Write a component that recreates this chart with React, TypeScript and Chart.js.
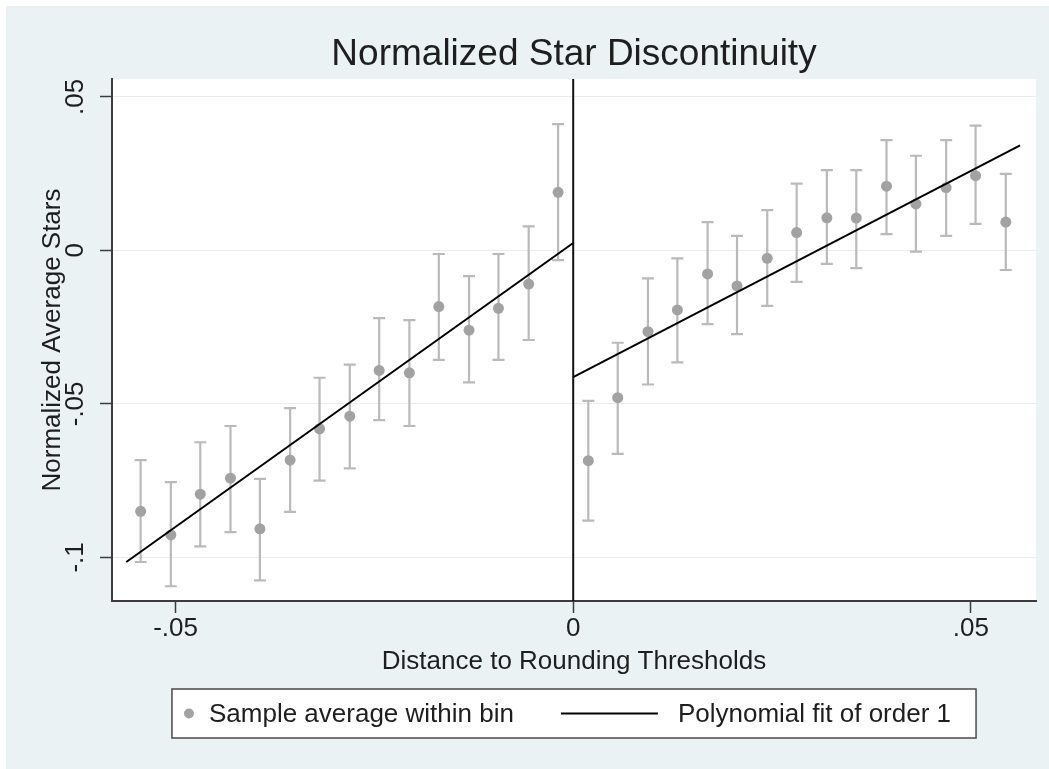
import React, { useEffect, useRef } from 'react';
import { Chart, registerables } from 'chart.js';

Chart.register(...registerables);

const TITLE = 'Normalized Star Discontinuity';
const X_TITLE = 'Distance to Rounding Thresholds';
const Y_TITLE = 'Normalized Average Stars';
const BIN_LABEL = 'Sample average within bin';
const FIT_LABEL = 'Polynomial fit of order 1';

// bin centres (distance to threshold)
const BIN_X = [
  -0.0544, -0.0506, -0.0469, -0.0431, -0.0394, -0.0356, -0.0319, -0.0281,
  -0.0244, -0.0206, -0.0169, -0.0131, -0.0094, -0.0056, -0.0019,
  0.0019, 0.0056, 0.0094, 0.0131, 0.0169, 0.0206, 0.0244, 0.0281,
  0.0319, 0.0356, 0.0394, 0.0431, 0.0469, 0.0506, 0.0544,
];
// sample average within bin
const BIN_MEAN = [
  -0.085, -0.0927, -0.0794, -0.0742, -0.0907, -0.0683, -0.0581, -0.054,
  -0.0391, -0.0399, -0.0183, -0.026, -0.0189, -0.011, 0.0189,
  -0.0685, -0.048, -0.0265, -0.0194, -0.0077, -0.0116, -0.0026, 0.0058,
  0.0106, 0.0105, 0.0209, 0.0151, 0.0204, 0.0243, 0.0092,
];
// confidence interval bounds
const CI_LOW = [
  -0.1015, -0.1094, -0.0964, -0.0918, -0.1075, -0.0852, -0.075, -0.071,
  -0.0553, -0.0572, -0.0357, -0.043, -0.0357, -0.0292, -0.0032,
  -0.088, -0.0663, -0.0437, -0.0365, -0.024, -0.0273, -0.0181, -0.0103,
  -0.0044, -0.0058, 0.0053, -0.0004, 0.0047, 0.0086, -0.0064,
];
const CI_HIGH = [
  -0.0683, -0.0755, -0.0625, -0.0572, -0.0744, -0.0514, -0.0415, -0.0372,
  -0.0221, -0.0227, -0.0012, -0.0084, -0.0012, 0.0078, 0.0411,
  -0.049, -0.0301, -0.0091, -0.0026, 0.0092, 0.0047, 0.0131, 0.0217,
  0.0261, 0.0261, 0.0359, 0.0308, 0.0359, 0.0406, 0.0249,
];
// linear fits on each side of the threshold
const FIT_LEFT_X = [-0.0562, 0];
const FIT_LEFT_Y = [-0.1015, 0.0024];
const FIT_RIGHT_X = [0, 0.0562];
const FIT_RIGHT_Y = [-0.0413, 0.0342];

const X_TICKS = [-0.05, 0, 0.05];
const X_TICK_LABELS = ['-.05', '0', '.05'];
const Y_TICKS = [-0.1, -0.05, 0, 0.05];
const Y_TICK_LABELS = ['-.1', '-.05', '0', '.05'];
const X_RANGE = [-0.058, 0.0582];
const Y_RANGE = [-0.1142, 0.0558];
const THRESHOLD = 0;

const FONT = '"Liberation Sans", Arial, Helvetica, sans-serif';
const TEXT = '#1e1e1e';
const AXIS = '#3c3c3c';
const OUTER_BG = '#eaf2f3';
const DOT = '#a2a2a2';
const CI = '#bababa';

const backgroundPlugin = {
  id: 'stataBackground',
  beforeDraw(chart: any) {
    const { ctx, chartArea: a, width, height } = chart;
    ctx.save();
    ctx.fillStyle = '#ffffff';
    ctx.fillRect(0, 0, width, height);
    ctx.fillStyle = OUTER_BG;
    ctx.fillRect(6, 6, width - 6, height - 6);
    ctx.fillStyle = '#ffffff';
    ctx.fillRect(a.left, a.top, a.right - a.left, a.bottom - a.top);
    ctx.restore();
  },
};

const errorBarPlugin = {
  id: 'errorBars',
  beforeDatasetsDraw(chart: any) {
    const { ctx, scales, chartArea: a } = chart;
    const xs = scales.x;
    const ys = scales.y;
    ctx.save();
    ctx.strokeStyle = CI;
    ctx.lineWidth = 2.2;
    const cap = 6;
    for (let i = 0; i < BIN_X.length; i++) {
      const px = xs.getPixelForValue(BIN_X[i]);
      const y1 = ys.getPixelForValue(CI_LOW[i]);
      const y2 = ys.getPixelForValue(CI_HIGH[i]);
      ctx.beginPath();
      ctx.moveTo(px, y1);
      ctx.lineTo(px, y2);
      ctx.moveTo(px - cap, y1);
      ctx.lineTo(px + cap, y1);
      ctx.moveTo(px - cap, y2);
      ctx.lineTo(px + cap, y2);
      ctx.stroke();
    }
    // threshold reference line
    const tx = xs.getPixelForValue(THRESHOLD);
    ctx.strokeStyle = '#111111';
    ctx.lineWidth = 2;
    ctx.beginPath();
    ctx.moveTo(tx, a.top);
    ctx.lineTo(tx, a.bottom);
    ctx.stroke();
    ctx.restore();
  },
};

const legendPlugin = {
  id: 'stataLegend',
  afterDraw(chart: any) {
    const { ctx, chartArea: a } = chart;
    const ds = chart.data.datasets;
    const label1 = ds[0].label;
    const label2 = ds[1].label;
    ctx.save();
    ctx.font = `26px ${FONT}`;
    const w1 = ctx.measureText(label1).width;
    const w2 = ctx.measureText(label2).width;
    const total = 17 + 5 + 15 + w1 + 47 + 97 + 20 + w2 + 25;
    const cx = (a.left + a.right) / 2;
    const left = cx - total / 2;
    const top = a.bottom + 88;
    const h = 49;
    ctx.fillStyle = '#ffffff';
    ctx.fillRect(left, top, total, h);
    ctx.strokeStyle = '#4a4a4a';
    ctx.lineWidth = 1.5;
    ctx.strokeRect(left, top, total, h);
    const cy = top + h / 2;
    ctx.fillStyle = ds[0].backgroundColor;
    ctx.beginPath();
    ctx.arc(left + 17, cy, 5, 0, Math.PI * 2);
    ctx.fill();
    ctx.fillStyle = TEXT;
    ctx.textBaseline = 'middle';
    ctx.textAlign = 'left';
    const t1 = left + 37;
    ctx.fillText(label1, t1, cy + 1);
    const l0 = t1 + w1 + 47;
    ctx.strokeStyle = ds[1].borderColor;
    ctx.lineWidth = 2;
    ctx.beginPath();
    ctx.moveTo(l0, cy);
    ctx.lineTo(l0 + 97, cy);
    ctx.stroke();
    ctx.fillText(label2, l0 + 97 + 20, cy + 1);
    ctx.restore();
  },
};

export default function App() {
  const canvasRef = useRef<HTMLCanvasElement | null>(null);

  useEffect(() => {
    const canvas = canvasRef.current;
    if (!canvas) return;
    Chart.defaults.font.family = FONT;
    const chart = new Chart(canvas, {
      type: 'scatter',
      data: {
        datasets: [
          {
            type: 'scatter',
            label: BIN_LABEL,
            data: BIN_X.map((x, i) => ({ x, y: BIN_MEAN[i] })),
            backgroundColor: DOT,
            borderWidth: 0,
            pointRadius: 5.5,
            pointHoverRadius: 5.5,
            order: 2,
          },
          {
            type: 'line',
            label: FIT_LABEL,
            data: FIT_LEFT_X.map((x, i) => ({ x, y: FIT_LEFT_Y[i] })),
            borderColor: '#000000',
            borderWidth: 2,
            pointRadius: 0,
            fill: false,
            order: 1,
          },
          {
            type: 'line',
            label: FIT_LABEL,
            data: FIT_RIGHT_X.map((x, i) => ({ x, y: FIT_RIGHT_Y[i] })),
            borderColor: '#000000',
            borderWidth: 2,
            pointRadius: 0,
            fill: false,
            order: 1,
          },
        ],
      } as any,
      options: {
        responsive: false,
        animation: false,
        events: [],
        layout: { padding: { left: 0, top: 0, right: 13, bottom: 78 } },
        plugins: {
          legend: { display: false },
          tooltip: { enabled: false },
          title: {
            display: true,
            text: TITLE,
            fullSize: false,
            color: TEXT,
            font: { family: FONT, size: 37, weight: 'normal' },
            padding: { top: 33, bottom: 1.6 },
          },
        },
        scales: {
          x: {
            type: 'linear',
            min: X_RANGE[0],
            max: X_RANGE[1],
            afterBuildTicks: (s: any) => {
              s.ticks = X_TICKS.map((v) => ({ value: v }));
            },
            afterFit: (s: any) => {
              s.height = 90;
            },
            ticks: {
              callback: (v: any) => X_TICK_LABELS[X_TICKS.indexOf(v)],
              font: { family: FONT, size: 26 },
              color: TEXT,
              padding: 0,
              maxRotation: 0,
              autoSkip: false,
            },
            grid: {
              drawOnChartArea: false,
              drawTicks: true,
              tickLength: 12,
              tickColor: AXIS,
              tickWidth: 1.5,
            },
            border: { display: true, color: AXIS, width: 2 },
            title: {
              display: true,
              text: X_TITLE,
              color: TEXT,
              font: { family: FONT, size: 26 },
              padding: { top: 0, bottom: 14 },
            },
          },
          y: {
            type: 'linear',
            min: Y_RANGE[0],
            max: Y_RANGE[1],
            afterBuildTicks: (s: any) => {
              s.ticks = Y_TICKS.map((v) => ({ value: v }));
            },
            afterFit: (s: any) => {
              s.width = 112;
            },
            ticks: {
              callback: (v: any) => Y_TICK_LABELS[Y_TICKS.indexOf(v)],
              font: { family: FONT, size: 26 },
              color: TEXT,
              padding: 2,
              minRotation: 90,
              maxRotation: 90,
              crossAlign: 'center',
              autoSkip: false,
            },
            grid: {
              color: '#e6eef0',
              lineWidth: 1,
              drawTicks: true,
              tickLength: 12,
              tickColor: AXIS,
              tickWidth: 1.5,
            },
            border: { display: true, color: AXIS, width: 2 },
            title: {
              display: true,
              text: Y_TITLE,
              color: TEXT,
              font: { family: FONT, size: 26 },
              padding: { top: 37, bottom: 0 },
            },
          },
        },
      } as any,
      plugins: [backgroundPlugin, errorBarPlugin, legendPlugin],
    });
    return () => chart.destroy();
  }, []);

  return (
    <div style={{ position: 'absolute', left: 0, top: 0, width: 1049, height: 769 }}>
      <canvas ref={canvasRef} width={1049} height={769} style={{ display: 'block' }} />
    </div>
  );
}
